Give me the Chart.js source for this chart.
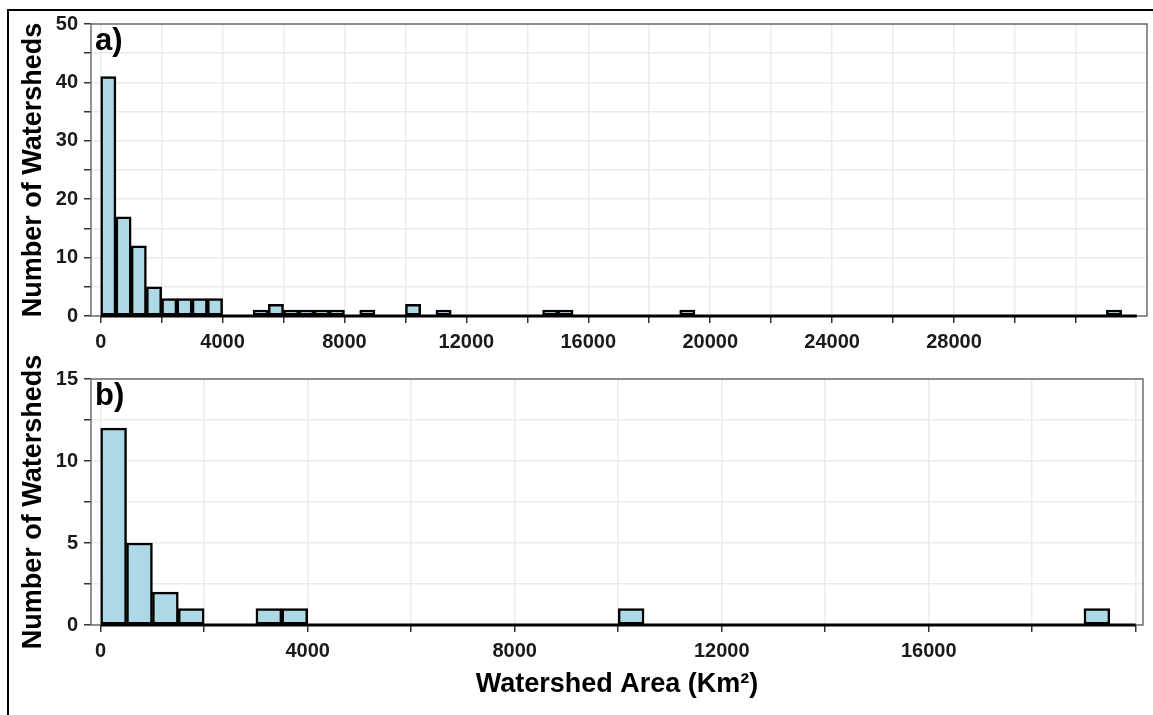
<!DOCTYPE html>
<html>
<head>
<meta charset="utf-8">
<script src="https://cdn.jsdelivr.net/npm/chart.js@4.4.1/dist/chart.umd.min.js"></script>
<style>
  html, body { margin: 0; padding: 0; background: #fff; }
  body { width: 1153px; height: 715px; position: relative; overflow: hidden; }
  .frame { position: absolute; left: 7px; top: 9px; width: 1300px; height: 900px;
           border-left: 2px solid #000; border-top: 2px solid #000; }
  canvas { position: absolute; left: 0; }
  #histA { top: 0; }
  #histB { top: 350px; }
</style>
</head>
<body>
<div class="frame"></div>
<canvas id="histA" width="1153" height="360"></canvas>
<canvas id="histB" width="1153" height="365"></canvas>
<script>
const binWidth = 500;

// a) all watersheds: non-empty 500 km2 bins
const binStartsA = [0, 500, 1000, 1500, 2000, 2500, 3000, 3500, 5000, 5500, 6000, 6500, 7000, 7500,
                    8500, 10000, 11000, 14500, 15000, 19000, 33000];
const countsA    = [41, 17, 12, 5, 3, 3, 3, 3, 1, 2, 1, 1, 1, 1,
                    1, 2, 1, 1, 1, 1, 1];
const binEndA = 34000;
const xTicksA  = [0, 2000, 4000, 6000, 8000, 10000, 12000, 14000, 16000, 18000, 20000,
                  22000, 24000, 26000, 28000, 30000, 32000];
const xLabelsA = [0, 4000, 8000, 12000, 16000, 20000, 24000, 28000];
const yTicksA  = [0, 5, 10, 15, 20, 25, 30, 35, 40, 45, 50];
const yLabelsA = [0, 10, 20, 30, 40, 50];

// b) subset
const binStartsB = [0, 500, 1000, 1500, 3000, 3500, 10000, 19000];
const countsB    = [12, 5, 2, 1, 1, 1, 1, 1];
const binEndB = 20000;
const xTicksB  = [0, 2000, 4000, 6000, 8000, 10000, 12000, 14000, 16000, 18000, 20000];
const xLabelsB = [0, 4000, 8000, 12000, 16000];
const yTicksB  = [0, 2.5, 5, 7.5, 10, 12.5, 15];
const yLabelsB = [0, 5, 10, 15];

Chart.defaults.font.family = '"Liberation Sans", Arial, sans-serif';
Chart.defaults.font.weight = 'bold';
Chart.defaults.color = '#1a1a1a';

// grey panel box under the bars, panel tag on top
const panelFrame = {
    id: 'panelFrame',
    beforeDatasetsDraw(chart) {
        const { ctx, chartArea: a } = chart;
        ctx.save();
        ctx.strokeStyle = '#6e6e6e';
        ctx.lineWidth = 1.5;
        ctx.strokeRect(a.left, a.top, a.right - a.left, a.bottom - a.top);
        ctx.restore();
    },
    afterDraw(chart, args, opts) {
        const { ctx, chartArea: a } = chart;
        ctx.save();
        ctx.fillStyle = '#000';
        ctx.font = 'bold 31px "Liberation Sans", Arial, sans-serif';
        ctx.textBaseline = 'alphabetic';
        ctx.fillText(opts.tag, a.left + 4, a.top + 26);
        ctx.restore();
    }
};

function histConfig(p) {
    const grid = { color: '#ebebeb', lineWidth: 1.5, tickColor: '#333', tickWidth: 1.5, tickLength: 7, offset: false };
    return {
        type: 'bar',
        data: {
            datasets: [{
                type: 'line',
                data: [{ x: p.starts[0], y: 0 }, { x: p.end, y: 0 }],
                borderColor: '#000',
                borderWidth: 3,
                pointRadius: 0,
                clip: false,
                order: 0
            }, {
                type: 'bar',
                data: p.starts.map((s, i) => ({ x: s + binWidth / 2, y: p.counts[i] })),
                backgroundColor: '#add8e6',
                borderColor: '#000',
                borderWidth: 2.5,
                borderSkipped: false,
                barPercentage: 1,
                categoryPercentage: 1,
                order: 1
            }]
        },
        options: {
            responsive: false,
            animation: false,
            layout: { padding: { top: p.top, right: p.right, left: 0, bottom: 0 } },
            plugins: { legend: { display: false }, tooltip: { enabled: false }, panelFrame: { tag: p.tag } },
            scales: {
                x: {
                    type: 'linear', min: p.xMin, max: p.xMax, offset: false,
                    afterBuildTicks: s => { s.ticks = p.xTicks.map(v => ({ value: v })); },
                    afterFit: s => { s.height = p.xAxisH; },
                    grid, border: { display: false },
                    ticks: { padding: 7, autoSkip: false, maxRotation: 0, font: { size: 20, weight: 'bold' },
                             callback: v => p.xLabels.includes(v) ? String(v) : '' },
                    title: p.xTitle ? { display: true, text: p.xTitle, color: '#000',
                                        font: { size: 27, weight: 'bold' }, padding: { top: 0, bottom: 14 } }
                                    : { display: false }
                },
                y: {
                    min: 0, max: p.yMax,
                    afterBuildTicks: s => { s.ticks = p.yTicks.map(v => ({ value: v })); },
                    afterFit: s => { s.width = 91; },
                    grid, border: { display: false },
                    ticks: { padding: 6, font: { size: 20, weight: 'bold' },
                             callback: v => p.yLabels.includes(v) ? String(v) : '' },
                    title: { display: true, text: 'Number of Watersheds', color: '#000',
                             font: { size: 27, weight: 'bold' }, padding: { top: 17, bottom: 0 } }
                }
            }
        },
        plugins: [panelFrame]
    };
}

new Chart(document.getElementById('histA'), histConfig({
    tag: 'a)', starts: binStartsA, counts: countsA, end: binEndA,
    xTicks: xTicksA, xLabels: xLabelsA, yTicks: yTicksA, yLabels: yLabelsA,
    xMin: -318, xMax: 34333, yMax: 50, top: 24, right: 6, xAxisH: 44
}));

new Chart(document.getElementById('histB'), histConfig({
    tag: 'b)', starts: binStartsB, counts: countsB, end: binEndB,
    xTicks: xTicksB, xLabels: xLabelsB, yTicks: yTicksB, yLabels: yLabelsB,
    xMin: -187, xMax: 20141, yMax: 15, top: 29, right: 10, xAxisH: 90,
    xTitle: 'Watershed Area (Km²)'
}));
</script>
</body>
</html>
